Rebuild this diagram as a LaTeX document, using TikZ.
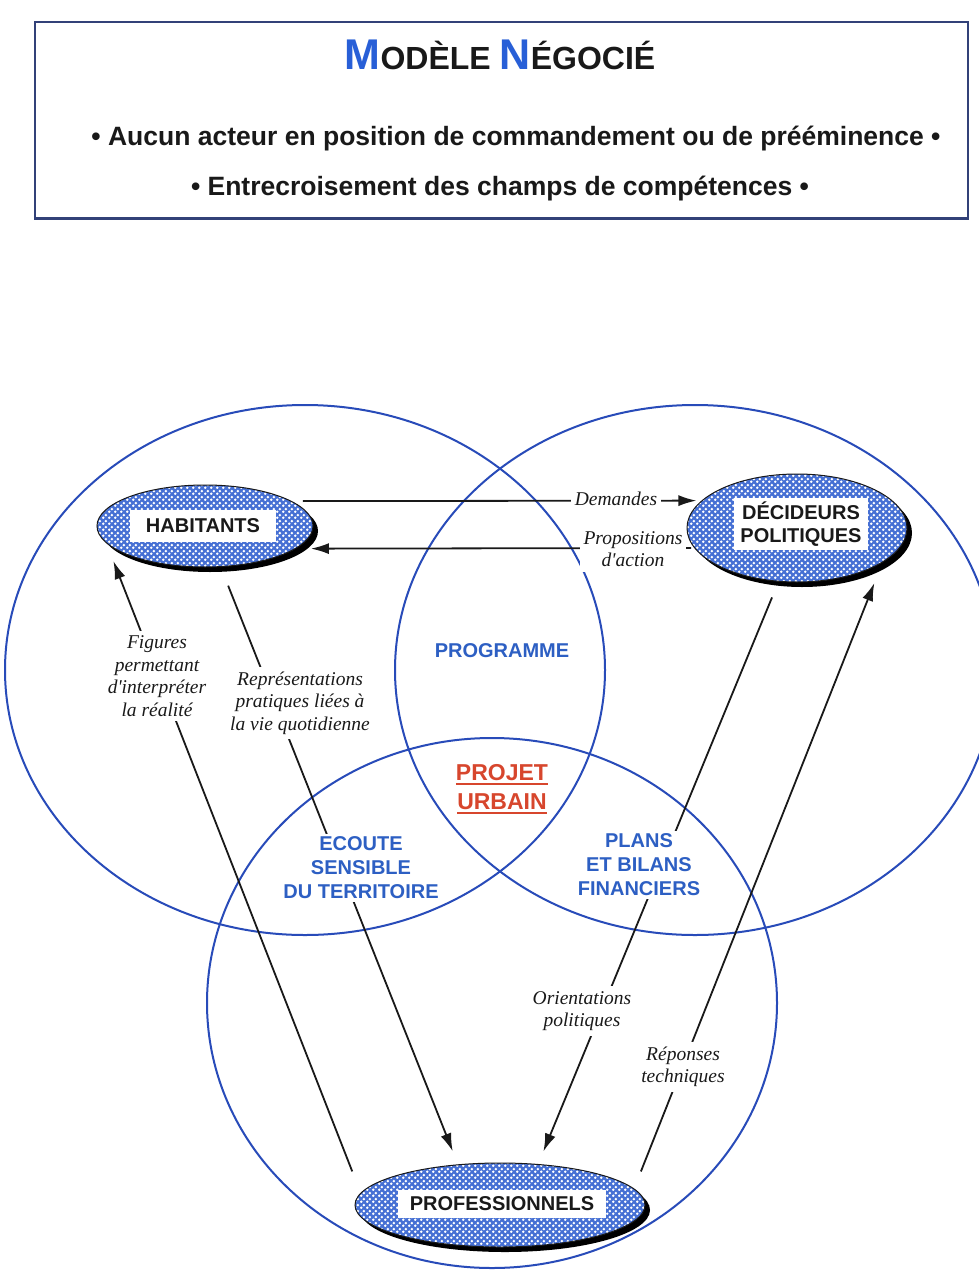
\documentclass[tikz,border=0pt]{standalone}
\usepackage{fontspec}
\newfontfamily\labfont{Liberation Sans}
\newfontfamily\itfont{Liberation Serif}
\usetikzlibrary{shapes.geometric,arrows.meta,patterns,shadows}
\pgfdeclarepatternformonly{bigdots}{\pgfpointorigin}{\pgfqpoint{6pt}{6pt}}{\pgfqpoint{6pt}{6pt}}{%
  \pgfpathcircle{\pgfqpoint{1.5pt}{1.5pt}}{1.6pt}%
  \pgfpathcircle{\pgfqpoint{4.5pt}{4.5pt}}{1.6pt}%
  \pgfusepath{fill}}
\definecolor{circblue}{RGB}{40,75,185}
\definecolor{lblblue}{RGB}{45,95,195}
\definecolor{titleblue}{RGB}{40,95,215}
\definecolor{blobblue}{RGB}{70,112,212}
\definecolor{framecol}{RGB}{50,65,120}
\definecolor{projred}{RGB}{215,70,45}
\definecolor{ink}{RGB}{25,25,25}
\newcommand\myul[1]{\leavevmode\setbox0\hbox{#1}\rlap{\rule[-4pt]{\wd0}{1.8pt}}\box0}
\tikzset{
  frame/.style={draw=framecol, line width=1.2pt},
  region/.style={font=\labfont\bfseries\fontsize{20}{24}\selectfont, text=lblblue, align=center, inner sep=0pt},
  itlab/.style={font=\itfont\itshape\fontsize{19.5}{22.5}\selectfont, text=ink, align=center, fill=white, inner xsep=4pt, inner ysep=5pt},
  blob/.style={ellipse, inner sep=0pt, draw=ink, line width=1pt,
    drop shadow={shadow xshift=5pt, shadow yshift=-5pt, fill=black, opacity=1},
    preaction={fill=blobblue}, pattern=bigdots, pattern color=white},
  blobtext/.style={fill=white, font=\labfont\bfseries\fontsize{20}{23}\selectfont, text=ink, align=center, inner ysep=0pt},
  circ/.style={draw=circblue, line width=2pt},
  conn/.style={draw=ink, line width=1.8pt},
  arr/.style={conn, -{Latex[length=18pt,width=11pt]}},
  hdrtext/.style={font=\labfont\bfseries\fontsize{26.5}{30}\selectfont, text=ink, inner sep=0pt, anchor=base}
}
\begin{document}
\begin{tikzpicture}[x=1pt,y=-1pt]
\useasboundingbox[fill=white] (0,0) rectangle (978,1287);

% header
\node[frame, minimum width=933pt, minimum height=196pt, inner sep=0pt] (hdr) at (501.5,120) {};
\draw[framecol, line width=2.6pt] (hdr.south west) -- (hdr.south east);
\node[anchor=base, inner sep=0pt, font=\labfont\bfseries] (title) at (500,70)
  {{\color{titleblue}\fontsize{43}{43}\selectfont M}{\color{ink}\fontsize{32}{32}\selectfont ODÈLE }{\color{titleblue}\fontsize{43}{43}\selectfont N}{\color{ink}\fontsize{32}{32}\selectfont ÉGOCIÉ}};
\node[hdrtext] (l1) at (516,146) {• Aucun acteur en position de commandement ou de prééminence •};
\node[hdrtext] (l2) at (500,195) {• Entrecroisement des champs de compétences •};

% the three fields
\draw[circ] (305,670) ellipse [x radius=300pt, y radius=265pt];
\draw[circ] (695,670) ellipse [x radius=300pt, y radius=265pt];
\draw[circ] (492,1003) ellipse [x radius=285pt, y radius=265pt];

% actor blobs
\node[blob, minimum width=216pt, minimum height=82pt] (hab) at (205,526) {};
\node[blob, minimum width=220pt, minimum height=108pt] (dec) at (797,528) {};
\node[blob, minimum width=290pt, minimum height=84pt] (pro) at (500,1205) {};
\node[blobtext, inner xsep=16pt, minimum height=32pt] (habt) at (203,526) {HABITANTS};
\node[blobtext, inner xsep=6pt, minimum height=52pt] (dect) at (801,524) {DÉCIDEURS\\POLITIQUES};
\node[blobtext, inner xsep=12pt, minimum height=28pt] (prot) at (502,1204) {PROFESSIONNELS};

% connectors
\draw[arr, shorten <=11pt, shorten >=5pt] (hab.16.3) -- (dec.164.2);
\draw[arr, shorten <=3pt, shorten >=15pt] (dec.191.1) -- (hab.346.4);
\draw[arr, shorten <=23pt, shorten >=19pt] (pro.175.3) -- (hab.190.6);
\draw[arr, shorten <=20pt, shorten >=14pt] (hab.291.2) -- (pro.136.9);
\draw[arr, shorten <=17pt, shorten >=13.5pt] (dec.251.8) -- (pro.47);
\draw[arr, shorten <=18.4pt, shorten >=22pt] (pro.7.8) -- (dec.338.8);

% connector labels
\node[itlab] (dem) at (616,499) {Demandes};
\node[itlab] (prop) at (633,549) {Propositions\\d'action};
\node[itlab] (fig) at (157,676) {Figures\\permettant\\d'interpréter\\la réalité};
\node[itlab] (rep) at (300,703) {Représentations\\pratiques liées à\\la vie quotidienne};
\node[itlab] (ori) at (582,1011) {Orientations\\politiques};
\node[itlab] (repo) at (683,1067) {Réponses\\techniques};

% region labels
\node[region] (prog) at (502,651) {PROGRAMME};
\node[region, text=projred, font=\labfont\bfseries\fontsize{23}{29}\selectfont] (proj) at (502,789) {\myul{PROJET}\\\myul{URBAIN}};
\node[region, fill=white, inner sep=3pt] (eco) at (361,868) {ECOUTE\\SENSIBLE\\DU TERRITOIRE};
\node[region, fill=white, inner sep=3pt] (plans) at (639,865) {PLANS\\ET BILANS\\FINANCIERS};
\end{tikzpicture}
\end{document}
